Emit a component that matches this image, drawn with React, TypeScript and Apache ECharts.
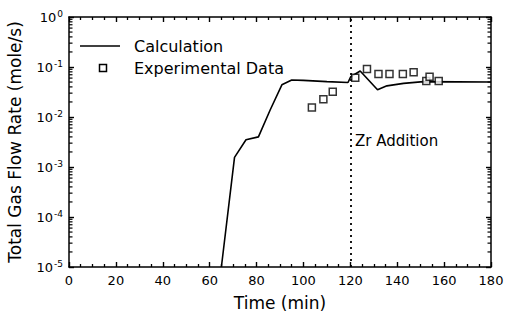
import React, { useEffect, useRef } from "react";
import * as echarts from "echarts";

const calcTime = [65, 70.6, 75.5, 80.8, 85.8, 90.8, 95, 100, 110, 119, 120.2, 124.2, 131.6, 135.6, 142.7, 151.2, 180];
const calcRate = [1e-5, 1.56e-3, 3.5e-3, 4.0e-3, 0.0138, 0.044, 0.055, 0.054, 0.051, 0.049, 0.064, 0.083, 0.035, 0.042, 0.047, 0.051, 0.05];

const expTime = [103.6, 108.5, 112.5, 122.1, 127.1, 132, 136.7, 142.4, 147, 152.4, 153.8, 157.7];
const expRate = [0.0154, 0.0226, 0.0321, 0.061, 0.091, 0.0724, 0.0724, 0.0724, 0.0783, 0.0525, 0.064, 0.0525];

const decadeExponents = [-5, -4, -3, -2, -1];
const minorMultipliers = [2, 3, 4, 5, 6, 7, 8, 9];
const zrTime = 120;

const FONT = "DejaVu Sans";

export default function App() {
  const ref = useRef<HTMLDivElement>(null);
  useEffect(() => {
    if (!ref.current) return;
    const chart = echarts.init(ref.current, null, { renderer: "svg" });
    const minorVals: number[][] = [];
    decadeExponents.forEach((e) => {
      minorMultipliers.forEach((m) => minorVals.push([0, m * Math.pow(10, e)]));
    });
    const mkX = (pos: string, labels: boolean) => ({
      type: "value",
      position: pos,
      min: 0,
      max: 180,
      interval: 20,
      splitLine: { show: false },
      axisLine: { show: true, onZero: false, lineStyle: { color: "#000", width: 1.5 } },
      axisTick: { show: true, inside: true, length: 5, lineStyle: { color: "#000", width: 1.4 } },
      minorTick: { show: true, splitNumber: 4, length: 3, lineStyle: { color: "#000", width: 1.3 } },
      axisLabel: labels ? { fontFamily: FONT, fontSize: 13, color: "#000", margin: 7 } : { show: false },
    });
    const mkY = (pos: string) => ({
      type: "log",
      position: pos,
      logBase: 10,
      min: 1e-5,
      max: 1,
      splitLine: { show: false },
      axisLine: { show: true, onZero: false, lineStyle: { color: "#000", width: 1.5 } },
      axisTick: { show: true, inside: true, length: 5, lineStyle: { color: "#000", width: 1.4 } },
    });
    chart.setOption({
      animation: false,
      backgroundColor: "#fff",
      grid: { left: 69, right: 16, top: 17, bottom: 45, containLabel: false, outerBoundsMode: "none" },
      xAxis: [
        {
          ...mkX("bottom", true),
          name: "Time (min)",
          nameLocation: "middle",
          nameGap: 27,
          nameTextStyle: { fontFamily: FONT, fontSize: 17, color: "#000" },
        },
        mkX("top", false),
      ],
      yAxis: [
        {
          ...mkY("left"),
          name: "Total Gas Flow Rate (mole/s)",
          nameLocation: "middle",
          nameGap: 46,
          nameRotate: 90,
          nameTextStyle: { fontFamily: FONT, fontSize: 17, color: "#000" },
          axisLabel: {
            margin: 6,
            formatter: (v: number) => {
              const e = Math.round(Math.log10(v));
              return `{b|10}{s|${e}}`;
            },
            rich: {
              b: { fontFamily: FONT, fontSize: 13, color: "#000" },
              s: { fontFamily: FONT, fontSize: 9, color: "#000", padding: [0, 0, 7, 1] },
            },
          },
        },
        { ...mkY("right"), axisLabel: { show: false } },
      ],
      series: [
        {
          name: "Calculation",
          type: "line",
          data: calcTime.map((t, i) => [t, calcRate[i]]),
          symbol: "none",
          lineStyle: { color: "#000", width: 1.6 },
          markLine: {
            silent: true,
            symbol: "none",
            label: { show: false },
            lineStyle: { color: "#000", width: 1.8, type: [2, 4] },
            data: [{ xAxis: zrTime }],
          },
          z: 3,
        },
        {
          name: "Experimental Data",
          type: "scatter",
          data: expTime.map((t, i) => [t, expRate[i]]),
          symbol: "rect",
          symbolSize: 7,
          itemStyle: { color: "#fff", borderColor: "#000", borderWidth: 1.5 },
          z: 4,
        },
        {
          type: "custom",
          silent: true,
          clip: false,
          data: minorVals,
          renderItem: (params: any, api: any) => {
            const v = api.value(1);
            const pl = api.coord([0, v]);
            const pr = api.coord([180, v]);
            const len = 3.5;
            return {
              type: "group",
              children: [
                { type: "line", shape: { x1: pl[0], y1: pl[1], x2: pl[0] + len, y2: pl[1] }, style: { stroke: "#000", lineWidth: 1.2 } },
                { type: "line", shape: { x1: pr[0], y1: pr[1], x2: pr[0] - len, y2: pr[1] }, style: { stroke: "#000", lineWidth: 1.2 } },
              ],
            };
          },
        },
      ],
      graphic: [
        { type: "line", shape: { x1: 80, y1: 46, x2: 120, y2: 46 }, style: { stroke: "#000", lineWidth: 1.6 } },
        { type: "rect", shape: { x: 99.5, y: 64.5, width: 7, height: 7 }, style: { fill: "#fff", stroke: "#000", lineWidth: 1.5 } },
        { type: "text", x: 134, y: 46, style: { text: "Calculation", fontFamily: FONT, fontSize: 16, fill: "#000", textVerticalAlign: "middle" } },
        { type: "text", x: 134, y: 68, style: { text: "Experimental Data", fontFamily: FONT, fontSize: 16, fill: "#000", textVerticalAlign: "middle" } },
        { type: "text", x: 355, y: 141, style: { text: "Zr Addition", fontFamily: FONT, fontSize: 15, fill: "#000", textVerticalAlign: "middle" } },
      ],
    });
    return () => chart.dispose();
  }, []);
  return <div ref={ref} style={{ position: "fixed", left: 0, top: 0, width: 507, height: 312, background: "#fff" }} />;
}
